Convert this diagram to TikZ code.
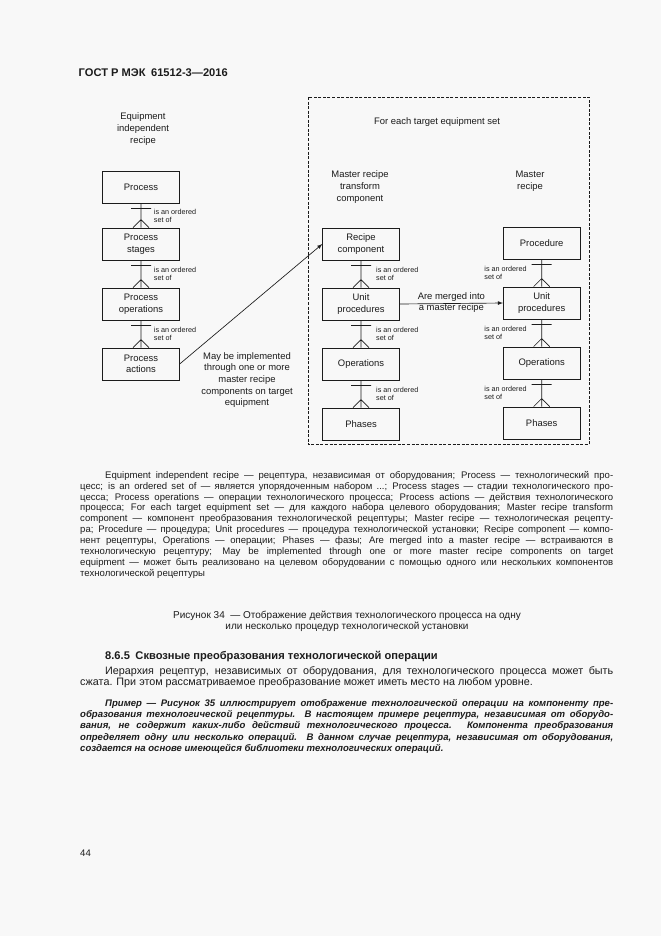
\documentclass[tikz,border=0pt]{standalone}
\usepackage{fontspec}
\setmainfont{Liberation Sans}
\usetikzlibrary{positioning,shadows}
\definecolor{pagebg}{RGB}{248,248,248}
\definecolor{ink}{RGB}{28,28,28}
\begin{document}
\begin{tikzpicture}
  [
    x = 0.9pt, y = -0.9pt,
    every node/.style       = {font=\fontsize{8.5}{10.4}\selectfont, text=ink},
    unitbox/.style          = {draw=ink, fill=pagebg, line width=0.6pt, minimum width=69pt,
                               minimum height=29pt, align=center, inner sep=1pt,
                               drop shadow={shadow xshift=0.8pt, shadow yshift=-0.8pt, fill=ink, opacity=0.9}},
    ordlabel/.style         = {font=\fontsize{6.5}{7.3}\selectfont, align=left, midway},
    bodytext/.style         = {anchor=north west, inner sep=0pt, text width=479.7pt, align=justify},
    edge from parent/.style = {draw=ink, line width=0.6pt},
    edge from parent path   = {([xshift=-7.2pt]\tikzchildnode.north) -- ([yshift=7.2pt]\tikzchildnode.north)
                                 -- ([xshift=7.2pt]\tikzchildnode.north)
                               ([xshift=-9pt,yshift=-4.5pt]\tikzparentnode.south)
                                 -- ([xshift=9pt,yshift=-4.5pt]\tikzparentnode.south)
                               (\tikzparentnode.south) -- (\tikzchildnode.north)},
    level distance          = 54pt
  ]
 \path[use as bounding box, fill=pagebg] (0,0) rectangle (661,936);
 \node[anchor=west, inner sep=0pt, font=\bfseries\fontsize{10}{11}\selectfont] (gostheader) at (78.5,72.7)
   {ГОСТ Р МЭК\enskip 61512-3—2016};
 % equipment independent recipe
 \node[align=center] (eirtitle) at (143,129) {Equipment\\independent\\recipe};
 \node[unitbox] (process) at (141,187) {Process}
  child[level distance=51.3pt] { node[unitbox] (stages) {Process\\stages}
  child[level distance=54pt] { node[unitbox] (procops) {Process\\operations}
  child { node[unitbox] (actions) {Process\\actions}
   edge from parent node[ordlabel, right=8pt] {is an ordered\\set of} }
   edge from parent node[ordlabel, right=8pt] {is an ordered\\set of} }
   edge from parent node[ordlabel, right=8pt] {is an ordered\\set of} };
 % target equipment set
 \draw[draw=ink, line width=0.5pt, dash pattern=on 2.7pt off 1.4pt] (308,97) rectangle (589,444.5);
 \node (targettitle) at (437,122) {For each target equipment set};
 \node[align=center] (mrtctitle) at (360,187) {Master recipe\\transform\\component};
 \node[align=center] (mrtitle) at (530,181) {Master\\recipe};
 \node[unitbox] (reccomp) at (361,244) {Recipe\\component}
  child { node[unitbox] (mcunits) {Unit\\procedures}
  child { node[unitbox] (mcops) {Operations}
  child { node[unitbox] (mcphases) {Phases}
   edge from parent node[ordlabel, right=10pt] {is an ordered\\set of} }
   edge from parent node[ordlabel, right=10pt] {is an ordered\\set of} }
   edge from parent node[ordlabel, right=10pt] {is an ordered\\set of} };
 \node[unitbox] (procedure) at (541.7,243) {Procedure}
  child { node[unitbox] (mrunits) {Unit\\procedures}
  child { node[unitbox] (mrops) {Operations}
  child { node[unitbox] (mrphases) {Phases}
   edge from parent node[ordlabel, left=10pt] {is an ordered\\set of} }
   edge from parent node[ordlabel, left=10pt] {is an ordered\\set of} }
   edge from parent node[ordlabel, left=10pt] {is an ordered\\set of} };
 \draw[-latex, draw=ink, line width=0.6pt] (mcunits.east)
   -- node[align=center, yshift=1pt] (mergedlabel) {Are merged into\\a master recipe} (mrunits.west);
 \draw[-latex, draw=ink, line width=0.6pt] (actions.east) -- (reccomp.west);
 \node[align=center] (maybelabel) at (247,380)
   {May be implemented\\through one or more\\master recipe\\components on target\\equipment};
 % page text
 \node[bodytext, font=\fontsize{8.6}{9.77}\selectfont] (legend) at (80,471)
   {\hspace*{22.5pt}Equipment independent recipe — рецептура, независимая от оборудования; Process — технологический про-\linebreak
   цесс; is an ordered set of — является упорядоченным набором ...; Process stages — стадии технологического про-\linebreak
   цесса; Process operations — операции технологического процесса; Process actions — действия технологического\linebreak
   процесса; For each target equipment set — для каждого набора целевого оборудования; Master recipe transform\linebreak
   component — компонент преобразования технологической рецептуры; Master recipe — технологическая рецепту-\linebreak
   ра; Procedure — процедура; Unit procedures — процедура технологической установки; Recipe component — компо-\linebreak
   нент рецептуры, Operations — операции; Phases — фазы; Are merged into a master recipe — встраиваются в\linebreak
   технологическую рецептуру; May be implemented through one or more master recipe components on target\linebreak
   equipment — может быть реализовано на целевом оборудовании с помощью одного или нескольких компонентов\linebreak
   технологической рецептуры};
 \node[anchor=north, inner sep=0pt, align=center, font=\fontsize{9}{10}\selectfont] (caption) at (347,610.5)
   {Рисунок 34~~— Отображение действия технологического процесса на одну\\
    или несколько процедур технологической установки};
 \node[anchor=north west, inner sep=0pt, font=\bfseries\fontsize{10}{11}\selectfont] (sectionhead) at (105,651)
   {8.6.5\enskip Сквозные преобразования технологической операции};
 \node[bodytext, font=\fontsize{9.7}{10.45}\selectfont] (sectionpara) at (80,666)
   {\hspace*{22.5pt}Иерархия рецептур, независимых от оборудования, для технологического процесса может быть\linebreak
   сжата. При этом рассматриваемое преобразование может иметь место на любом уровне.};
 \node[bodytext, font=\bfseries\itshape\fontsize{8.6}{9.95}\selectfont] (examplepara) at (80,699.5)
   {\hspace*{22.5pt}Пример — Рисунок 35 иллюстрирует отображение технологической операции на компоненту пре-\linebreak
   образования технологической рецептуры. В настоящем примере рецептура, независимая от оборудо-\linebreak
   вания, не содержит каких-либо действий технологического процесса. Компонента преобразования\linebreak
   определяет одну или несколько операций. В данном случае рецептура, независимая от оборудования,\linebreak
   создается на основе имеющейся библиотеки технологических операций.};
 \node[anchor=west, inner sep=0pt, font=\fontsize{8.6}{10}\selectfont] (pagenum) at (80,853) {44};
\end{tikzpicture}
\end{document}
